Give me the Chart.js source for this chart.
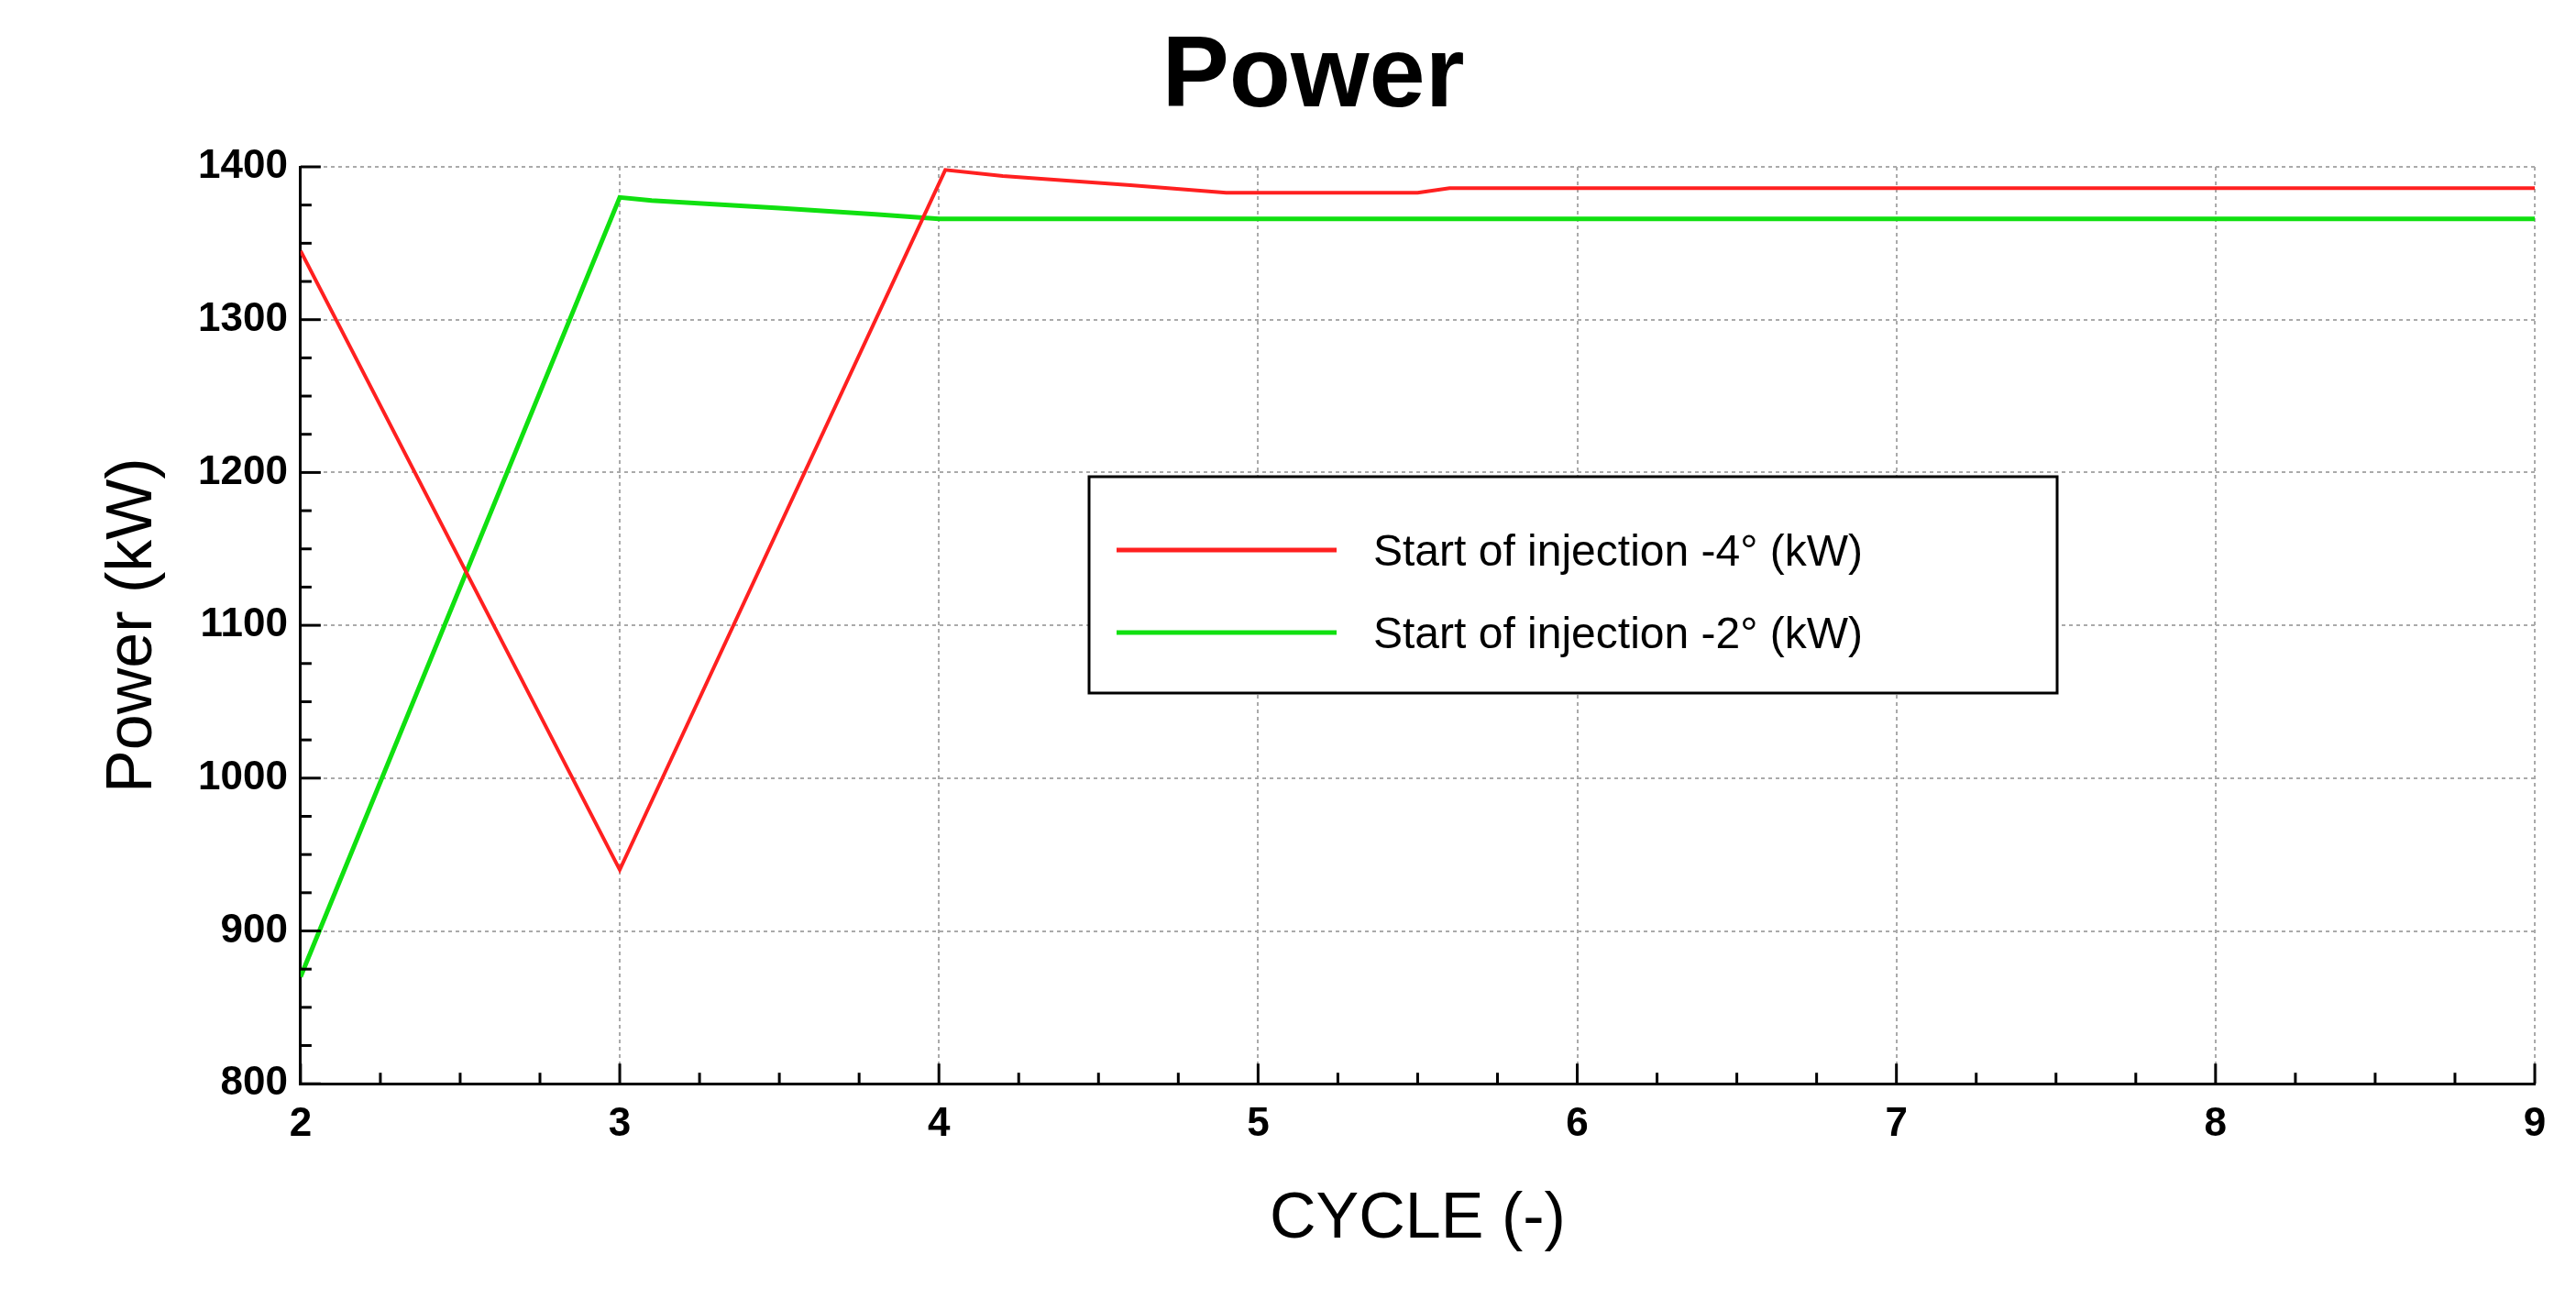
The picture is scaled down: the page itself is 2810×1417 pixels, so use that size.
<!DOCTYPE html>
<html>
<head>
<meta charset="utf-8">
<script src="https://cdn.jsdelivr.net/npm/chart.js@4"></script>
<style>
  html, body { margin: 0; padding: 0; background: #fff; }
  #wrap { width: 2810px; height: 1417px; }
</style>
</head>
<body>
<div id="wrap"><canvas id="power"></canvas></div>
<script>
// data
const redX = [2, 3, 4.02, 4.2, 4.6, 4.9, 5.5, 5.6, 6, 7, 8, 9];
const redY = [1345, 940, 1398, 1394, 1388, 1383, 1383, 1386, 1386, 1386, 1386, 1386];
const greenX = [2, 3, 3.1, 3.5, 3.8, 4, 5, 6, 7, 8, 9];
const greenY = [870, 1380, 1378, 1373, 1369, 1366, 1366, 1366, 1366, 1366, 1366];
const seriesLabels = ['Start of injection -4° (kW)', 'Start of injection -2° (kW)'];
const xTicks = [2, 3, 4, 5, 6, 7, 8, 9];
const yTicks = [800, 900, 1000, 1100, 1200, 1300, 1400];

const pts = (xs, ys) => xs.map((x, i) => ({ x: x, y: ys[i] }));

// minor ticks and legend box drawn inside the plot
const extras = {
    id: 'extras',
    afterDraw(chart) {
        const c = chart.ctx, a = chart.chartArea;
        const xs = chart.scales.x, ys = chart.scales.y;
        c.save();
        c.strokeStyle = '#000';
        c.lineWidth = 3;
        for (let v = 2; v <= 9.001; v += 0.25) {
            const px = xs.getPixelForValue(v);
            const major = Math.abs(v - Math.round(v)) < 0.01;
            c.beginPath(); c.moveTo(px, a.bottom); c.lineTo(px, a.bottom - (major ? 22 : 12)); c.stroke();
        }
        for (let v = 800; v <= 1400; v += 25) {
            const py = ys.getPixelForValue(v);
            const major = v % 100 === 0;
            c.beginPath(); c.moveTo(a.left, py); c.lineTo(a.left + (major ? 22 : 12), py); c.stroke();
        }
        // legend
        const bx = 1188, by = 520, bw = 1056, bh = 236;
        c.fillStyle = '#fff';
        c.fillRect(bx, by, bw, bh);
        c.lineWidth = 3;
        c.strokeRect(bx, by, bw, bh);
        c.font = '48px "Liberation Sans", Arial, sans-serif';
        c.textBaseline = 'middle';
        chart.data.datasets.forEach((d, i) => {
            const y = by + 80 + i * 90;
            c.strokeStyle = d.borderColor;
            c.lineWidth = 5;
            c.beginPath(); c.moveTo(bx + 30, y); c.lineTo(bx + 270, y); c.stroke();
            c.fillStyle = '#000';
            c.fillText(d.label, bx + 310, y + 4);
        });
        c.restore();
    }
};

const tickFont = { family: '"Liberation Sans", Arial, sans-serif', size: 44, weight: 'bold' };

const createPowerChart = () => {
    const ctx = document.getElementById('power').getContext('2d');
    new Chart(ctx, {
        type: 'line',
        data: {
            datasets: [
                { label: seriesLabels[0], data: pts(redX, redY), borderColor: '#ff2020', borderWidth: 4, pointRadius: 0, tension: 0 },
                { label: seriesLabels[1], data: pts(greenX, greenY), borderColor: '#10e010', borderWidth: 5, pointRadius: 0, tension: 0 }
            ]
        },
        options: {
            responsive: true,
            maintainAspectRatio: false,
            animation: false,
            layout: { padding: { left: 100, right: 45, top: 20, bottom: 40 } },
            plugins: {
                legend: { display: false },
                tooltip: { enabled: false },
                title: {
                    display: true,
                    text: 'Power',
                    color: '#000',
                    font: { family: '"Liberation Sans", Arial, sans-serif', size: 110, weight: 'bold' },
                    padding: { top: 0, bottom: 30 }
                }
            },
            scales: {
                x: {
                    type: 'linear', min: 2, max: 9,
                    afterBuildTicks: s => { s.ticks = xTicks.map(v => ({ value: v })); },
                    border: { color: '#000', width: 3, dash: [4, 4] },
                    grid: { color: '#aaa', lineWidth: 2, tickLength: 0 },
                    ticks: { color: '#000', padding: 18, font: tickFont },
                    title: { display: true, text: 'CYCLE (-)', color: '#000', padding: { top: 18 }, font: { family: '"Liberation Sans", Arial, sans-serif', size: 70 } }
                },
                y: {
                    min: 800, max: 1400,
                    afterBuildTicks: s => { s.ticks = yTicks.map(v => ({ value: v })); },
                    border: { color: '#000', width: 3, dash: [4, 4] },
                    grid: { color: '#aaa', lineWidth: 2, tickLength: 0 },
                    ticks: { color: '#000', padding: 14, font: tickFont, callback: v => String(v) },
                    title: { display: true, text: 'Power (kW)', color: '#000', padding: { bottom: 14 }, font: { family: '"Liberation Sans", Arial, sans-serif', size: 70 } }
                }
            }
        },
        plugins: [extras]
    });
};

document.addEventListener('DOMContentLoaded', createPowerChart);
</script>
</body>
</html>
